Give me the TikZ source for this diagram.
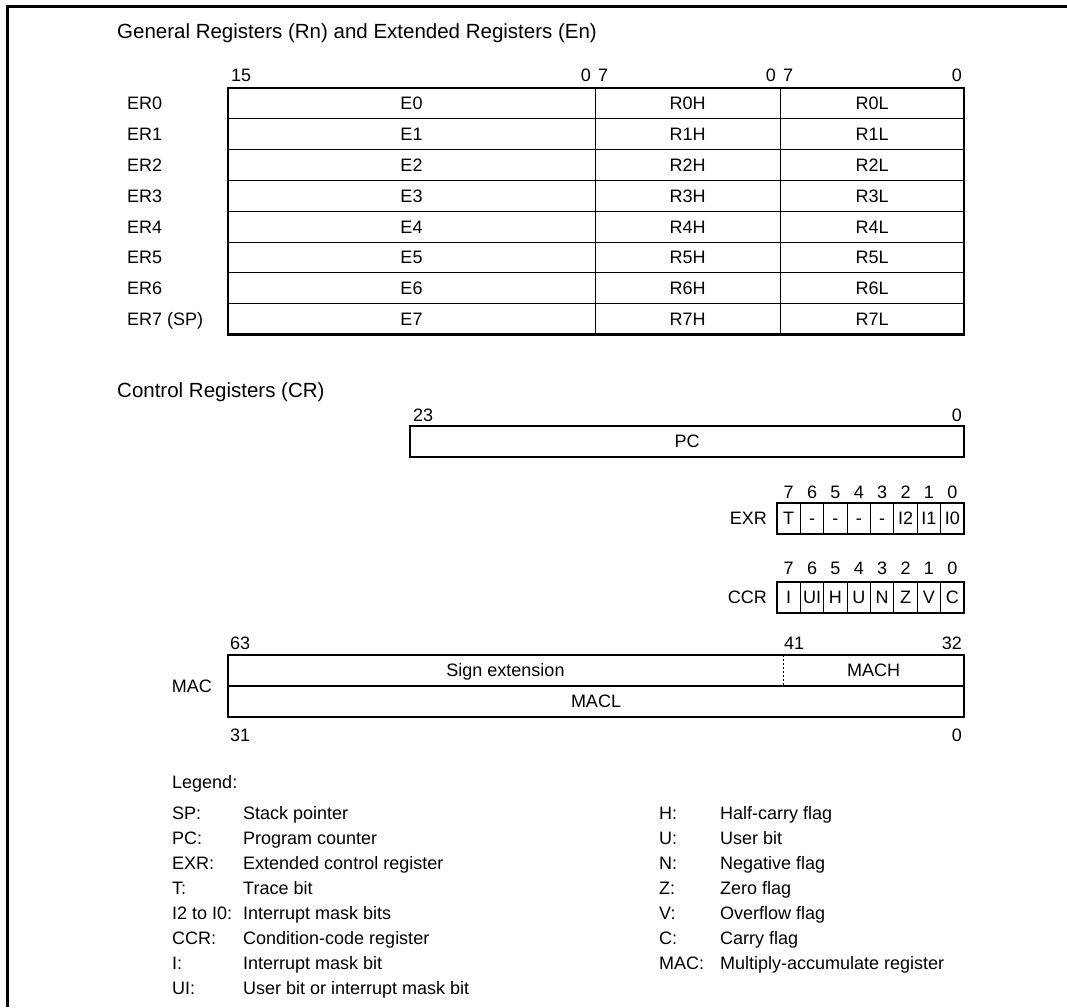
\documentclass[tikz,border=0pt]{standalone}
\usepackage{fontspec}
\setmainfont{Liberation Sans}
\newcommand\bodyfs{\fontsize{18}{21}\selectfont}
\newcommand\headfs{\fontsize{20.5}{24}\selectfont}
\tikzset{
  txt/.style={inner sep=0pt, font=\bodyfs, text height=12.9pt, text depth=0pt},
  head/.style={inner sep=0pt, font=\headfs, text height=14.7pt, text depth=0pt, anchor=west},
  thickln/.style={line width=2.6pt},
  thinln/.style={line width=1pt},
  frameln/.style={line width=2.6pt},
  dotln/.style={line width=0.8pt, dash pattern=on 2pt off 2pt},
}
\begin{document}
\begin{tikzpicture}[x=1pt,y=-1pt]
\useasboundingbox (0,0) rectangle (1067,1007);
% frame
\coordinate (fbl) at (7.5,1007);
\coordinate (ftl) at (7.5,6.5);
\coordinate (ftr) at (1067,6.5);
\draw[frameln] (fbl) -- (ftl) -- (ftr);

% ---------- General registers ----------
\node[head] (t1) at (117,31) {General Registers (Rn) and Extended Registers (En)};
\node[txt,anchor=west] (b15) at (231,75) {15};
\node[txt,anchor=east] (b0a) at (591,75) {0};
\node[txt,anchor=west] (b7a) at (598,75) {7};
\node[txt,anchor=east] (b0b) at (776,75) {0};
\node[txt,anchor=west] (b7b) at (783,75) {7};
\node[txt,anchor=east] (b0c) at (962,75) {0};

\coordinate (gtl) at (228,88);
\coordinate (gbr) at (964,334.4);
\foreach \i in {1,...,7}{
  \pgfmathsetmacro\yy{88+30.8*\i}
  \draw[thinln] (228,\yy) -- (964,\yy);
}
\draw[thinln] (595,88) -- (595,334.4);
\draw[thinln] (780,88) -- (780,334.4);
\draw[thickln] (gtl) rectangle (gbr);
\foreach \i in {0,...,7}{
  \pgfmathsetmacro\yy{103.4+30.8*\i}
  \ifnum\i=7
    \node[txt,anchor=west] (er\i) at (127,\yy) {ER7 (SP)};
  \else
    \node[txt,anchor=west] (er\i) at (127,\yy) {ER\i};
  \fi
  \node[txt] (e\i) at (411.5,\yy) {E\i};
  \node[txt] (rh\i) at (687.5,\yy) {R\i H};
  \node[txt] (rl\i) at (872,\yy) {R\i L};
}

% ---------- Control registers ----------
\node[head] (t2) at (117,390) {Control Registers (CR)};
\node[txt,anchor=west] (b23) at (413,415) {23};
\node[txt,anchor=east] (b0d) at (962,415) {0};
\draw[thickln] (410,426) rectangle (964,457);
\node[txt] (pc) at (687,441.5) {PC};

% EXR
\foreach \k [count=\c from 0] in {7,6,5,4,3,2,1,0}{
  \pgfmathsetmacro\xx{777+23.375*\c+11.69}
  \node[txt] (eb\c) at (\xx,492) {\k};
  \node[txt] (cb\c) at (\xx,568) {\k};
}
\foreach \c in {1,...,7}{
  \pgfmathsetmacro\xx{777+23.375*\c}
  \draw[thinln] (\xx,503) -- (\xx,534);
  \draw[thinln] (\xx,582) -- (\xx,613);
}
\draw[thickln] (777,503) rectangle (964,534);
\draw[thickln] (777,582) rectangle (964,613);
\foreach \t [count=\c from 0] in {T,-,-,-,-,I2,I1,I0}{
  \pgfmathsetmacro\xx{777+23.375*\c+11.69}
  \node[txt] (ex\c) at (\xx,518.5) {\t};
}
\foreach \t [count=\c from 0] in {I,UI,H,U,N,Z,V,C}{
  \pgfmathsetmacro\xx{777+23.375*\c+11.69}
  \node[txt] (cc\c) at (\xx,597.5) {\t};
}
\node[txt,anchor=east] (exr) at (767,518.5) {EXR};
\node[txt,anchor=east] (ccr) at (767,597.5) {CCR};

% MAC
\node[txt,anchor=west] (b63) at (230,643) {63};
\node[txt,anchor=west] (b41) at (784,643) {41};
\node[txt,anchor=east] (b32) at (962,643) {32};
\node[txt,anchor=west] (b31) at (230,735) {31};
\node[txt,anchor=east] (b0e) at (962,735) {0};
\draw[dotln] (783,655) -- (783,686);
\draw[thickln] (228,655) rectangle (964,717);
\draw[thickln] (228,686) -- (964,686);
\node[txt] (sgn) at (505.5,670.5) {Sign extension};
\node[txt] (mach) at (873.5,670.5) {MACH};
\node[txt] (macl) at (596,701.5) {MACL};
\node[txt,anchor=east] (mac) at (212,686) {MAC};

% ---------- Legend ----------
\node[txt,anchor=west] (leg) at (172,782) {Legend:};
\foreach \a/\b [count=\c from 0] in {SP:/Stack pointer, PC:/Program counter, EXR:/Extended control register, T:/Trace bit, I2 to I0:/Interrupt mask bits, CCR:/Condition-code register, I:/Interrupt mask bit, UI:/User bit or interrupt mask bit}{
  \pgfmathsetmacro\yy{813+25*\c}
  \node[txt,anchor=west] (la\c) at (172,\yy) {\a};
  \node[txt,anchor=west] (lb\c) at (243,\yy) {\b};
}
\foreach \a/\b [count=\c from 0] in {H:/Half-carry flag, U:/User bit, N:/Negative flag, Z:/Zero flag, V:/Overflow flag, C:/Carry flag, MAC:/Multiply-accumulate register}{
  \pgfmathsetmacro\yy{813+25*\c}
  \node[txt,anchor=west] (ra\c) at (659,\yy) {\a};
  \node[txt,anchor=west] (rb\c) at (720,\yy) {\b};
}
\end{tikzpicture}
\end{document}
